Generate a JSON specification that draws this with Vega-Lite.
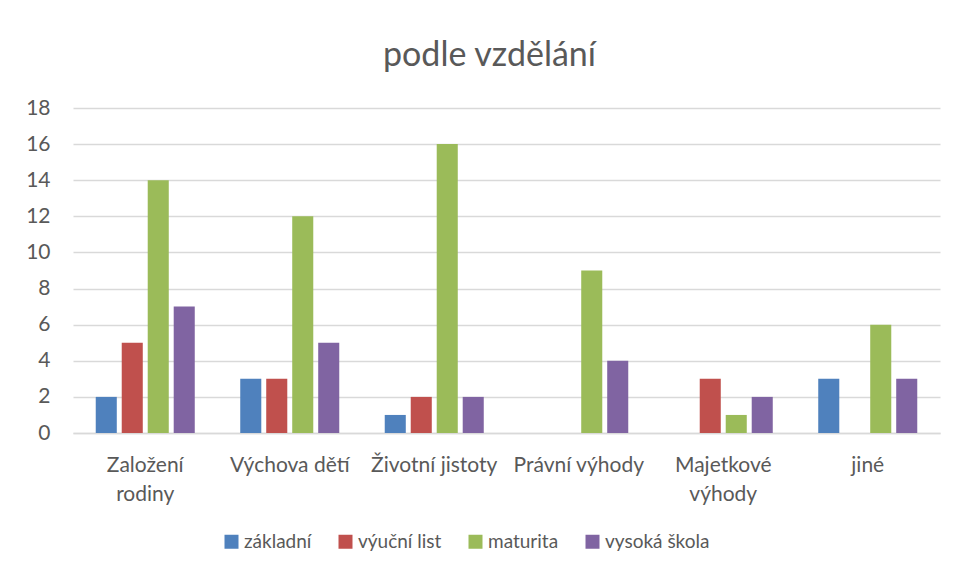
{
  "$schema": "https://vega.github.io/schema/vega-lite/v6.json",
  "autosize": {"type": "none"},
  "width": 867,
  "height": 325,
  "padding": {"left": 73, "top": 108, "right": 15, "bottom": 148},
  "background": "white",
  "title": {
    "text": "podle vzdělání",
    "font": "Lato",
    "fontSize": 34,
    "fontWeight": "normal",
    "color": "#595959",
    "offset": 24,
    "dx": -17
  },
  "data": {
    "values": [
      {"kategorie": "Založení rodiny", "vzdelani": "základní", "pocet": 2},
      {"kategorie": "Založení rodiny", "vzdelani": "výuční list", "pocet": 5},
      {"kategorie": "Založení rodiny", "vzdelani": "maturita", "pocet": 14},
      {"kategorie": "Založení rodiny", "vzdelani": "vysoká škola", "pocet": 7},
      {"kategorie": "Výchova dětí", "vzdelani": "základní", "pocet": 3},
      {"kategorie": "Výchova dětí", "vzdelani": "výuční list", "pocet": 3},
      {"kategorie": "Výchova dětí", "vzdelani": "maturita", "pocet": 12},
      {"kategorie": "Výchova dětí", "vzdelani": "vysoká škola", "pocet": 5},
      {"kategorie": "Životní jistoty", "vzdelani": "základní", "pocet": 1},
      {"kategorie": "Životní jistoty", "vzdelani": "výuční list", "pocet": 2},
      {"kategorie": "Životní jistoty", "vzdelani": "maturita", "pocet": 16},
      {"kategorie": "Životní jistoty", "vzdelani": "vysoká škola", "pocet": 2},
      {"kategorie": "Právní výhody", "vzdelani": "základní", "pocet": 0},
      {"kategorie": "Právní výhody", "vzdelani": "výuční list", "pocet": 0},
      {"kategorie": "Právní výhody", "vzdelani": "maturita", "pocet": 9},
      {"kategorie": "Právní výhody", "vzdelani": "vysoká škola", "pocet": 4},
      {"kategorie": "Majetkové výhody", "vzdelani": "základní", "pocet": 0},
      {"kategorie": "Majetkové výhody", "vzdelani": "výuční list", "pocet": 3},
      {"kategorie": "Majetkové výhody", "vzdelani": "maturita", "pocet": 1},
      {"kategorie": "Majetkové výhody", "vzdelani": "vysoká škola", "pocet": 2},
      {"kategorie": "jiné", "vzdelani": "základní", "pocet": 3},
      {"kategorie": "jiné", "vzdelani": "výuční list", "pocet": 0},
      {"kategorie": "jiné", "vzdelani": "maturita", "pocet": 6},
      {"kategorie": "jiné", "vzdelani": "vysoká škola", "pocet": 3}
    ]
  },
  "mark": {"type": "bar"},
  "encoding": {
    "x": {
      "field": "kategorie",
      "type": "nominal",
      "sort": ["Založení rodiny", "Výchova dětí", "Životní jistoty", "Právní výhody", "Majetkové výhody", "jiné"],
      "scale": {"paddingInner": 0, "paddingOuter": 0},
      "axis": {
        "title": null,
        "labelAngle": 0,
        "labelFont": "Lato",
        "labelFontSize": 21,
        "labelColor": "#595959",
        "labelPadding": 21,
        "labelLineHeight": 29,
        "ticks": false,
        "domainColor": "#d9d9d9",
        "domainWidth": 1.3,
        "labelExpr": "datum.label == 'Založení rodiny' ? ['Založení', 'rodiny'] : datum.label == 'Majetkové výhody' ? ['Majetkové', 'výhody'] : datum.label"
      }
    },
    "xOffset": {
      "field": "vzdelani",
      "type": "nominal",
      "sort": ["základní", "výuční list", "maturita", "vysoká škola"],
      "scale": {"paddingInner": 0.19, "paddingOuter": 0.875}
    },
    "y": {
      "field": "pocet",
      "type": "quantitative",
      "scale": {"domain": [0, 18], "nice": false},
      "axis": {
        "title": null,
        "values": [0, 2, 4, 6, 8, 10, 12, 14, 16, 18],
        "labelFont": "Lato",
        "labelFontSize": 21,
        "labelColor": "#595959",
        "labelPadding": 23,
        "ticks": false,
        "domain": false,
        "gridColor": "#d9d9d9",
        "gridWidth": 1.3
      }
    },
    "color": {
      "field": "vzdelani",
      "type": "nominal",
      "scale": {
        "domain": ["základní", "výuční list", "maturita", "vysoká škola"],
        "range": ["#4F81BD", "#C0504D", "#9BBB59", "#8064A2"]
      },
      "legend": {
        "title": null,
        "orient": "none",
        "direction": "horizontal",
        "legendX": 149,
        "legendY": 424,
        "symbolType": "square",
        "symbolSize": 196,
        "symbolStrokeWidth": 0,
        "symbolOpacity": 1,
        "labelFont": "Lato",
        "labelFontSize": 19,
        "labelColor": "#595959",
        "labelOffset": 3,
        "columnPadding": 24
      }
    }
  },
  "config": {
    "view": {"stroke": null},
    "axis": {"labelFontWeight": "normal"}
  }
}
